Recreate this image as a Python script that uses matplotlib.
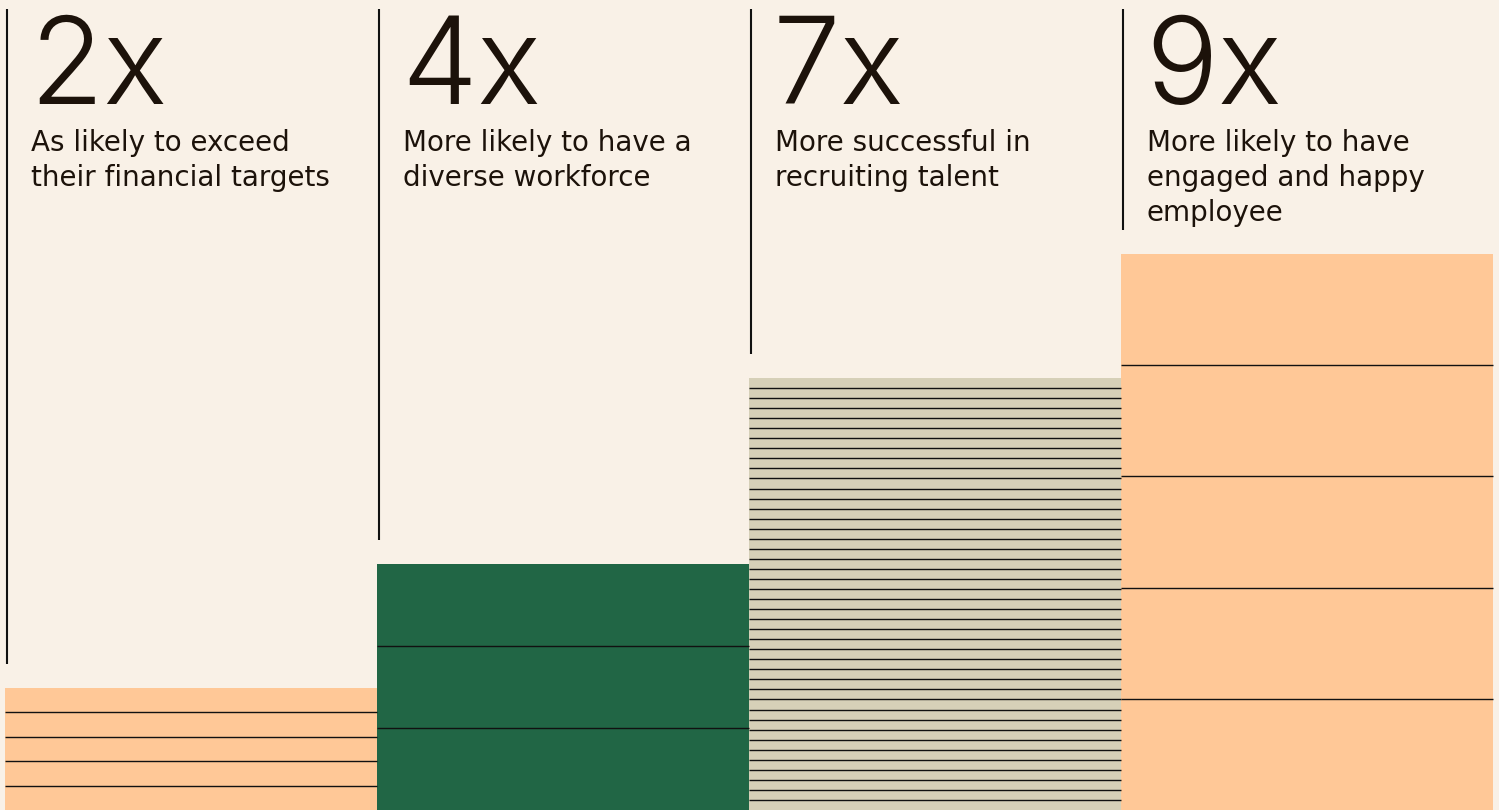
import matplotlib
matplotlib.use("Agg")
from matplotlib import pyplot as plt

# data
values = [2, 4, 7, 9]
big_labels = ["2x", "4x", "7x", "9x"]
captions = ["As likely to exceed\ntheir financial targets",
            "More likely to have a\ndiverse workforce",
            "More successful in\nrecruiting talent",
            "More likely to have\nengaged and happy\nemployee"]
stripes = [5, 3, 43, 5]
colors = ["#FFC897", "#216645", "#D6D0B8", "#FFC897"]

bg = "#F9F1E7"
ink = "#1C120A"

W, H = 1499, 810
px_x = 372.0     # pixels per bar
px_y = 62.0      # pixels per unit
y0 = 2 / px_y    # bars are cut a little at the bottom

fig = plt.figure(figsize=(W / 100, H / 100), dpi=100, facecolor=bg)
ax = fig.add_axes([0, 0, 1, 1])
ax.set_facecolor(bg)
ax.set_xlim(-5 / px_x, (W - 5) / px_x)
ymax = y0 + H / px_y
ax.set_ylim(y0, ymax)
ax.axis("off")

idx = list(range(len(values)))
ax.bar(idx, values, width=1, align="edge", color=colors, linewidth=0)

# stripes inside the bars
for i, v in enumerate(values):
    n = stripes[i]
    ys = [y0 + (v - y0) * k / n for k in range(1, n)]
    ax.hlines(ys, i, i + 1, color="#111111", linewidth=1.0)

# vertical rule and labels above each bar
for i, v in enumerate(values):
    x0 = i + 2 / px_x
    ax.vlines(x0, v + 24 / px_y, ymax - 9 / px_y, color="#111111", linewidth=1.5)
    tx = i + 24 / px_x
    ax.text(tx, ymax - 104 / px_y, big_labels[i], fontsize=87, color=ink,
            family=["Inter", "DejaVu Sans"], fontweight=300, va="baseline", ha="left")
    for k, line in enumerate(captions[i].split("\n")):
        ax.text(tx + 2 / px_x, ymax - (151 + 35 * k) / px_y, line, fontsize=20, color=ink,
                family=["DejaVu Sans"], va="baseline", ha="left")

fig.savefig("out.png", dpi=100, facecolor=bg)
